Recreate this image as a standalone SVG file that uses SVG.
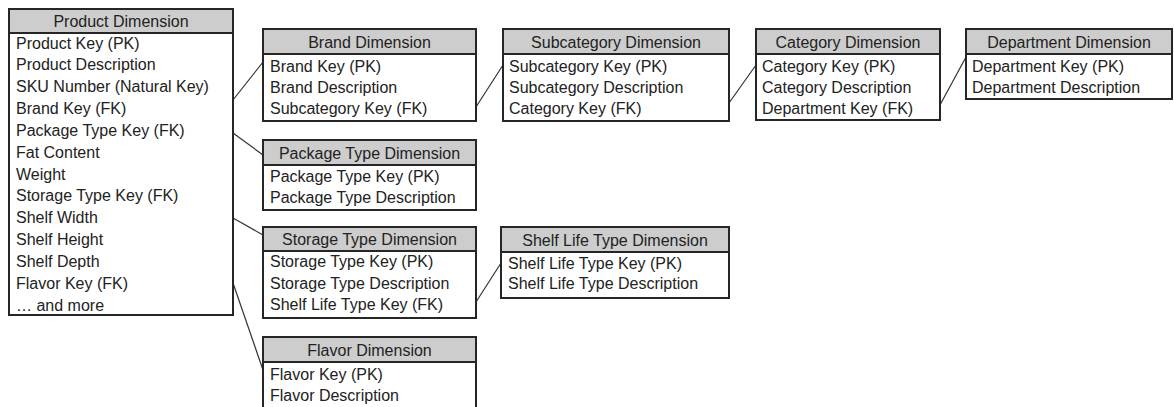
<svg xmlns="http://www.w3.org/2000/svg" width="1174" height="407" viewBox="0 0 1174 407">
  <style>
    .box { fill: #ffffff; stroke: #262626; stroke-width: 2; }
    .hdr { fill: #cdcdcd; stroke: #262626; stroke-width: 2; }
    .t { font-family: "Liberation Sans", Arial, sans-serif; font-size: 16px; fill: #222222; }
    .h { text-anchor: middle; }
    .link { stroke: #333333; stroke-width: 1.2; fill: none; }
  </style>
  <rect width="1174" height="407" fill="#ffffff"/>

  <!-- relationships between dimension tables -->
  <g id="connectors">
    <line class="link" x1="233" y1="100" x2="263" y2="62"/>
    <line class="link" x1="233" y1="133" x2="263" y2="155"/>
    <line class="link" x1="233" y1="218" x2="263" y2="235"/>
    <line class="link" x1="233" y1="283" x2="263" y2="370"/>
    <line class="link" x1="476" y1="107" x2="503" y2="65"/>
    <line class="link" x1="729" y1="103" x2="756" y2="65"/>
    <line class="link" x1="940" y1="105" x2="966" y2="57"/>
    <line class="link" x1="476" y1="302" x2="501" y2="263"/>
  </g>

  <g id="product">
    <rect class="box" x="9" y="9" width="224" height="306"/>
    <rect class="hdr" x="9" y="9" width="224" height="24"/>
    <text class="t h" x="121" y="27">Product Dimension</text>
    <text class="t" x="16" y="48.5">Product Key (PK)</text>
    <text class="t" x="16" y="70.3">Product Description</text>
    <text class="t" x="16" y="92.2">SKU Number (Natural Key)</text>
    <text class="t" x="16" y="114">Brand Key (FK)</text>
    <text class="t" x="16" y="135.8">Package Type Key (FK)</text>
    <text class="t" x="16" y="157.7">Fat Content</text>
    <text class="t" x="16" y="179.5">Weight</text>
    <text class="t" x="16" y="201.3">Storage Type Key (FK)</text>
    <text class="t" x="16" y="223.1">Shelf Width</text>
    <text class="t" x="16" y="245">Shelf Height</text>
    <text class="t" x="16" y="266.8">Shelf Depth</text>
    <text class="t" x="16" y="288.6">Flavor Key (FK)</text>
    <text class="t" x="16" y="310.5">… and more</text>
  </g>

  <g id="brand">
    <rect class="box" x="263" y="29" width="213" height="92"/>
    <rect class="hdr" x="263" y="29" width="213" height="25"/>
    <text class="t h" x="369.5" y="47.5">Brand Dimension</text>
    <text class="t" x="270" y="71.5">Brand Key (PK)</text>
    <text class="t" x="270" y="92.5">Brand Description</text>
    <text class="t" x="270" y="114">Subcategory Key (FK)</text>
  </g>

  <g id="subcategory">
    <rect class="box" x="503" y="29" width="226" height="92"/>
    <rect class="hdr" x="503" y="29" width="226" height="25"/>
    <text class="t h" x="616" y="47.5">Subcategory Dimension</text>
    <text class="t" x="509" y="71.5">Subcategory Key (PK)</text>
    <text class="t" x="509" y="92.5">Subcategory Description</text>
    <text class="t" x="509" y="114">Category Key (FK)</text>
  </g>

  <g id="category">
    <rect class="box" x="756" y="29" width="184" height="91"/>
    <rect class="hdr" x="756" y="29" width="184" height="25"/>
    <text class="t h" x="848" y="47.5">Category Dimension</text>
    <text class="t" x="762" y="71.5">Category Key (PK)</text>
    <text class="t" x="762" y="92.5">Category Description</text>
    <text class="t" x="762" y="114">Department Key (FK)</text>
  </g>

  <g id="department">
    <rect class="box" x="966" y="29" width="206" height="70"/>
    <rect class="hdr" x="966" y="29" width="206" height="25"/>
    <text class="t h" x="1069" y="47.5">Department Dimension</text>
    <text class="t" x="972" y="71.5">Department Key (PK)</text>
    <text class="t" x="972" y="92.5">Department Description</text>
  </g>

  <g id="package-type">
    <rect class="box" x="263" y="140" width="213" height="70"/>
    <rect class="hdr" x="263" y="140" width="213" height="25"/>
    <text class="t h" x="369.5" y="158.5">Package Type Dimension</text>
    <text class="t" x="270" y="182">Package Type Key (PK)</text>
    <text class="t" x="270" y="203">Package Type Description</text>
  </g>

  <g id="storage-type">
    <rect class="box" x="263" y="227" width="213" height="91"/>
    <rect class="hdr" x="263" y="227" width="213" height="24"/>
    <text class="t h" x="369.5" y="245">Storage Type Dimension</text>
    <text class="t" x="270" y="267">Storage Type Key (PK)</text>
    <text class="t" x="270" y="288.7">Storage Type Description</text>
    <text class="t" x="270" y="310.4">Shelf Life Type Key (FK)</text>
  </g>

  <g id="shelf-life-type">
    <rect class="box" x="501" y="227" width="228" height="71"/>
    <rect class="hdr" x="501" y="227" width="228" height="25"/>
    <text class="t h" x="615" y="245.5">Shelf Life Type Dimension</text>
    <text class="t" x="508" y="268.7">Shelf Life Type Key (PK)</text>
    <text class="t" x="508" y="289">Shelf Life Type Description</text>
  </g>

  <g id="flavor">
    <rect class="box" x="263" y="337" width="213" height="90"/>
    <rect class="hdr" x="263" y="337" width="213" height="25"/>
    <text class="t h" x="369.5" y="355.5">Flavor Dimension</text>
    <text class="t" x="270" y="379.5">Flavor Key (PK)</text>
    <text class="t" x="270" y="400.5">Flavor Description</text>
  </g>
</svg>
